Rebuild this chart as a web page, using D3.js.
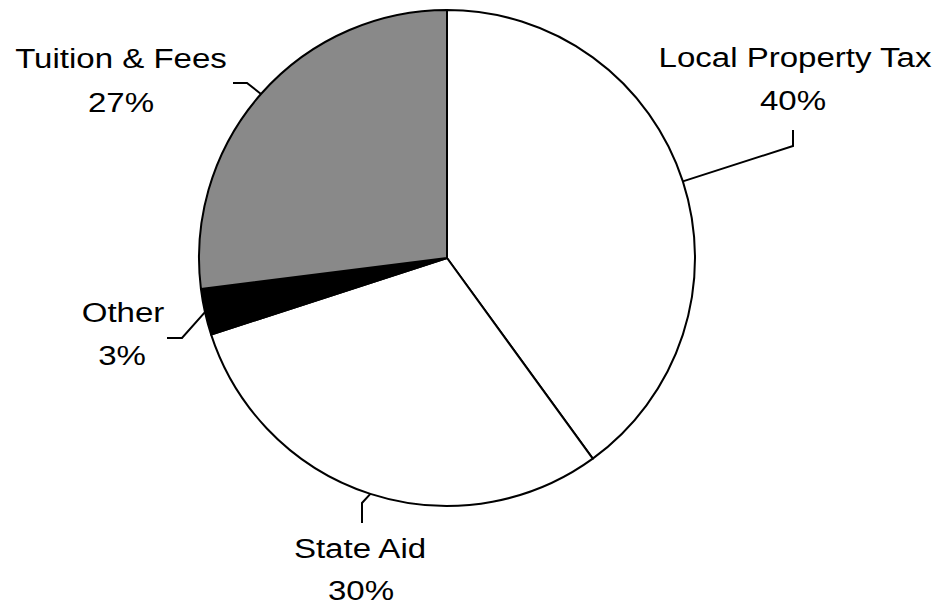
<!DOCTYPE html>
<html>
<head>
<meta charset="utf-8">
<script src="https://cdn.jsdelivr.net/npm/d3@7"></script>
<style>
  html, body { margin: 0; padding: 0; background: #fff; }
  svg { display: block; }
  text { font-family: "Liberation Sans", Arial, Helvetica, sans-serif; fill: #000; }
</style>
</head>
<body>
<svg id="chart" width="937" height="607"></svg>
<script>
// Revenue sources (percent of total)
const categories = ["Local Property Tax", "State Aid", "Other", "Tuition & Fees"];
const shares = [40, 30, 3, 27];
const shareLabels = ["40%", "30%", "3%", "27%"];

// Slice fills: white, solid black, or mid grey
const fills = ["#fff", "#fff", "#000", "#898989"];

// Leader-line bends and label anchors for each slice
const leaderLayout = [
  { bend: [793, 146], end: [793, 130], name: [795, 67],  pct: [793, 110] },
  { bend: [362, 503], end: [362, 523], name: [360, 558], pct: [361, 600] },
  { bend: [182, 338], end: [167, 338], name: [123, 322], pct: [122, 365] },
  { bend: [247, 83],  end: [233, 83],  name: [121, 68],  pct: [121, 112] }
];

const width = 937, height = 607;
const cx = 447, cy = 258, radius = 248;
const fontSize = 28, stretch = 1.18;

const svg = d3.select("#chart");

const data = categories.map((c, i) => ({ name: c, value: shares[i], label: shareLabels[i], fill: fills[i], layout: leaderLayout[i] }));

const pie = d3.pie().sort(null).value(d => d.value).startAngle(0).endAngle(2 * Math.PI);
const arcs = pie(data);

const arc = d3.arc().innerRadius(0).outerRadius(radius);
const edgeArc = d3.arc().innerRadius(radius).outerRadius(radius);

const g = svg.append("g").attr("transform", `translate(${cx},${cy})`);

g.selectAll("path.slice")
  .data(arcs)
  .join("path")
  .attr("class", "slice")
  .attr("d", arc)
  .attr("fill", d => d.data.fill)
  .attr("stroke", "#000")
  .attr("stroke-width", 2)
  .attr("stroke-linejoin", "round");

// Leader lines from the rim of each slice to its label
svg.selectAll("polyline.leader")
  .data(arcs)
  .join("polyline")
  .attr("class", "leader")
  .attr("fill", "none")
  .attr("stroke", "#000")
  .attr("stroke-width", 2)
  .attr("points", d => {
    const [ex, ey] = edgeArc.centroid(d);
    const L = d.data.layout;
    return [[cx + ex, cy + ey], L.bend, L.end].map(p => p.join(",")).join(" ");
  });

// Category names and percentages
const labels = svg.selectAll("g.label")
  .data(arcs)
  .join("g")
  .attr("class", "label");

labels.append("text")
  .attr("text-anchor", "middle")
  .attr("font-size", fontSize)
  .attr("transform", d => `translate(${d.data.layout.name[0]},${d.data.layout.name[1]}) scale(${stretch},1)`)
  .text(d => d.data.name);

labels.append("text")
  .attr("text-anchor", "middle")
  .attr("font-size", fontSize)
  .attr("transform", d => `translate(${d.data.layout.pct[0]},${d.data.layout.pct[1]}) scale(${stretch},1)`)
  .text(d => d.data.label);
</script>
</body>
</html>
